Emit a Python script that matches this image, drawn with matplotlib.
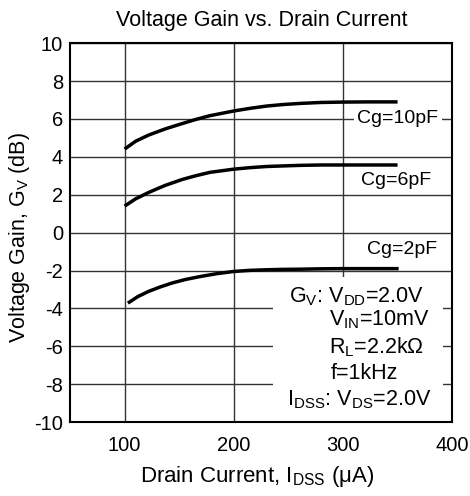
import matplotlib
matplotlib.use('Agg')
import matplotlib.pyplot as plt
from matplotlib.patches import Rectangle
import numpy as np

plt.rcParams['font.family'] = ['Liberation Sans', 'DejaVu Sans']
plt.rcParams['mathtext.fontset'] = 'custom'
plt.rcParams['mathtext.rm'] = 'Liberation Sans'
plt.rcParams['mathtext.it'] = 'Liberation Sans'
plt.rcParams['axes.unicode_minus'] = False

# Drain current (uA) and voltage gain (dB)
idss_10 = [100, 110, 122, 137, 153, 165, 178, 200, 215, 230, 245, 261, 280, 300, 325, 350]
gv_10 = [4.41, 4.82, 5.15, 5.47, 5.76, 5.97, 6.17, 6.42, 6.56, 6.68, 6.76, 6.82, 6.87, 6.89, 6.9, 6.9]

idss_6 = [100, 110, 122, 137, 153, 165, 178, 200, 215, 230, 245, 261, 280, 300, 325, 350]
gv_6 = [1.4, 1.78, 2.12, 2.49, 2.81, 3.0, 3.18, 3.35, 3.43, 3.49, 3.52, 3.55, 3.57, 3.57, 3.57, 3.57]

idss_2 = [103, 112, 122, 133, 144, 156, 169, 184, 200, 215, 230, 245, 261, 280, 300, 351]
gv_2 = [-3.72, -3.38, -3.1, -2.86, -2.65, -2.47, -2.32, -2.17, -2.05, -1.99, -1.96, -1.94, -1.93, -1.91, -1.9, -1.9]

xticks = [100, 200, 300, 400]
yticks = np.arange(-10, 11, 2)

fig = plt.figure(figsize=(4.7, 4.96), dpi=100)
ax = fig.add_axes([0.149, 0.149, 0.813, 0.764])

ax.plot(idss_10, gv_10, color='black', lw=2.5, zorder=3, solid_capstyle='butt')
ax.plot(idss_6, gv_6, color='black', lw=2.5, zorder=3, solid_capstyle='butt')
ax.plot(idss_2, gv_2, color='black', lw=2.5, zorder=3, solid_capstyle='butt')

ax.set_xlim(50, 400)
ax.set_ylim(-10, 10)
ax.set_xticks(xticks)
ax.set_yticks(yticks)
ax.grid(True, color='#333333', lw=1.0)
ax.tick_params(length=0, labelsize=14.5)
ax.tick_params(axis='x', pad=10)
ax.tick_params(axis='y', pad=5)
for s in ax.spines.values():
    s.set_linewidth(1.5)

ax.text(0.503, 1.061, 'Voltage Gain vs. Drain Current', fontsize=15.5,
        ha='center', va='center', transform=ax.transAxes)
ax.set_xlabel(r'Drain Current, $\mathregular{I_{DSS}}$ ($\mathregular{\mu}$A)', fontsize=16, va='center')
ax.xaxis.set_label_coords(0.49, -0.143)
ax.set_ylabel(r'Voltage Gain, $\mathregular{G_V}$ (dB)', fontsize=15.5, va='center')
ax.yaxis.set_label_coords(-0.131, 0.487)

# white panel under the conditions block
ax.add_patch(Rectangle((236, -10), 156, 7.65, facecolor='white', edgecolor='none', zorder=2))

bb = dict(facecolor='white', edgecolor='none', pad=2.5)
ax.text(350, 6.0, 'Cg=10pF', fontsize=14, ha='center', va='center', bbox=bb, zorder=4)
ax.text(349, 2.77, 'Cg=6pF', fontsize=14, ha='center', va='center', zorder=4)
ax.text(354, -0.9, 'Cg=2pF', fontsize=14, ha='center', va='center', zorder=4)

fs = 15.5
ax.text(250.5, -3.39, r'$\mathregular{G_V}$: $\mathregular{V_{DD}}$=2.0V', fontsize=fs, va='center', zorder=4)
ax.text(287, -4.62, r'$\mathregular{V_{IN}}$=10mV', fontsize=fs, va='center', zorder=4)
ax.text(287, -6.03, r'$\mathregular{R_L}$=2.2k$\mathregular{\Omega}$', fontsize=fs, va='center', zorder=4)
ax.text(288.5, -7.41, 'f=1kHz', fontsize=fs, va='center', zorder=4)
ax.text(249, -8.84, r'$\mathregular{I_{DSS}}$: $\mathregular{V_{DS}}$=2.0V', fontsize=fs, va='center', zorder=4)

fig.savefig('out.png', dpi=100)
